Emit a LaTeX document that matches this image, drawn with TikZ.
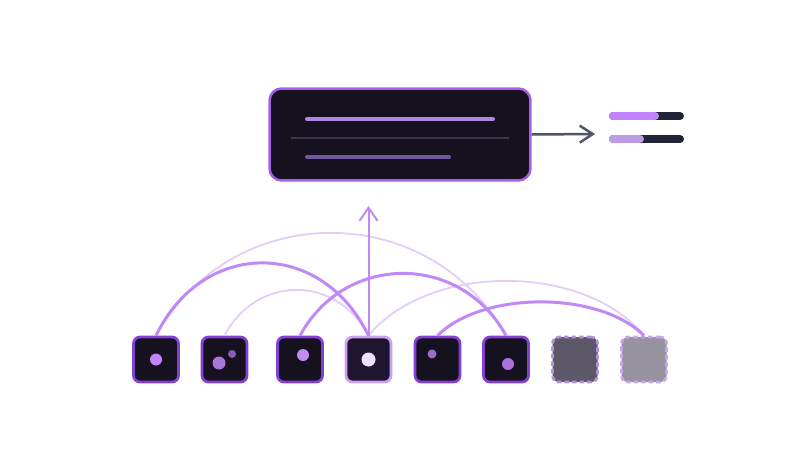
\documentclass[tikz,border=0pt]{standalone}
\usepackage{tikz}
\usetikzlibrary{arrows.meta}
\definecolor{ink}{HTML}{15111F}
\definecolor{inklit}{HTML}{1E1630}
\definecolor{panedge}{HTML}{A85EEB}
\definecolor{chipedge}{HTML}{8440D4}
\definecolor{chiplit}{HTML}{C8A2F0}
\definecolor{ghostedge}{HTML}{B38FE0}
\definecolor{arcstrong}{HTML}{C189F5}
\definecolor{arcfaint}{HTML}{E2CCF8}
\definecolor{slate}{HTML}{4E5668}
\definecolor{bardark}{HTML}{1F2536}
\tikzset{
	chip/.style={draw=chipedge, fill=ink, line width=0.055cm, rounded corners=0.13cm, minimum size=0.9cm, inner sep=0pt},
	ghost/.style={chip, draw=ghostedge, dash pattern={on 0.09cm off 0.06cm}},
	strong/.style={draw=arcstrong, line width=0.06cm},
	faint/.style={draw=arcfaint, line width=0.035cm}
}

\begin{document}
\begin{tikzpicture}[x=0.02cm, y=-0.02cm]
			%%%%% START %%%%%
			\useasboundingbox[fill=white] (0, 0) rectangle (800, 450);
			
			% summary panel
			\node[draw=panedge, fill=ink, line width=0.05cm, rounded corners=0.24cm, minimum width=5.22cm, minimum height=1.84cm] (panel) at (400, 134.5) {};
			\draw[line width=0.08cm, line cap=round, color={rgb,255:red,179;green,131;blue,227}] (307, 119) -- (493, 119);
			\draw[line width=0.03cm, color={rgb,255:red,59;green,53;blue,80}] (291, 138) -- (509, 138);
			\draw[line width=0.08cm, line cap=round, color={rgb,255:red,111;green,88;blue,160}] (307, 157) -- (449, 157);
			
			% score bars
			\coordinate (out) at (595, 134);
			\draw[line width=0.05cm, color=slate, -{Straight Barb[length=0.26cm, width=0.34cm]}] (panel.east) -- (out);
			\draw[line width=0.16cm, line cap=round, color=bardark] (613, 116) -- (680, 116);
			\draw[line width=0.16cm, line cap=round, color={rgb,255:red,192;green,132;blue,252}] (613, 116) -- (655, 116);
			\draw[line width=0.16cm, line cap=round, color=bardark] (613, 139) -- (680, 139);
			\draw[line width=0.16cm, line cap=round, color={rgb,255:red,191;green,155;blue,230}] (613, 139) -- (640, 139);
			
			% token chips
			\node[chip] (b1) at (156, 359.5) {};
			\node[chip] (b2) at (224.5, 359.5) {};
			\node[chip] (b3) at (300, 359.5) {};
			\node[chip, draw=chiplit, fill=inklit] (b4) at (368.5, 359.5) {};
			\node[chip] (b5) at (437.5, 359.5) {};
			\node[chip] (b6) at (506, 359.5) {};
			\node[ghost, fill={rgb,255:red,93;green,88;blue,104}] (b7) at (575, 359.5) {};
			\node[ghost, fill={rgb,255:red,150;green,147;blue,158}, draw={rgb,255:red,196;green,165;blue,238}] (b8) at (644, 359.5) {};
			
			\fill[color={rgb,255:red,192;green,132;blue,252}] (b1.center) circle (0.12cm);
			\fill[color={rgb,255:red,168;green,120;blue,216}] ([shift={(-5.5, 3.5)}]b2.center) circle (0.13cm);
			\fill[color={rgb,255:red,138;green,90;blue,184}] ([shift={(7.5, -5.5)}]b2.center) circle (0.08cm);
			\fill[color={rgb,255:red,192;green,140;blue,244}] ([shift={(3, -4.5)}]b3.center) circle (0.12cm);
			\fill[color={rgb,255:red,238;green,226;blue,250}] (b4.center) circle (0.14cm);
			\fill[color={rgb,255:red,156;green,108;blue,204}] ([shift={(-5.5, -5.5)}]b5.center) circle (0.09cm);
			\fill[color={rgb,255:red,168;green,114;blue,220}] ([shift={(2, 4.5)}]b6.center) circle (0.12cm);
			
			% attention arcs
			\draw[faint] (b1.north) .. controls +(77, -137) and +(-77, -137) .. (b6.north);
			\draw[faint] (b2.north) .. controls +(32, -61) and +(-32, -61) .. (b4.north);
			\draw[faint] (b4.north) .. controls +(60, -73) and +(-60, -73) .. (b8.north);
			\draw[strong] (b1.north) .. controls +(47, -97) and +(-47, -97) .. (b4.north);
			\draw[strong] (b3.north) .. controls +(45, -83) and +(-45, -83) .. (b6.north);
			\draw[strong] (b5.north) .. controls +(45, -45) and +(-45, -45) .. (b8.north);
			
			\coordinate (up) at (368.5, 206);
			\draw[line width=0.04cm, color=arcstrong, -{Straight Barb[length=0.26cm, width=0.36cm]}] (b4.north) -- (up);
			%%%%% END %%%%%
		\end{tikzpicture}
\end{document}
